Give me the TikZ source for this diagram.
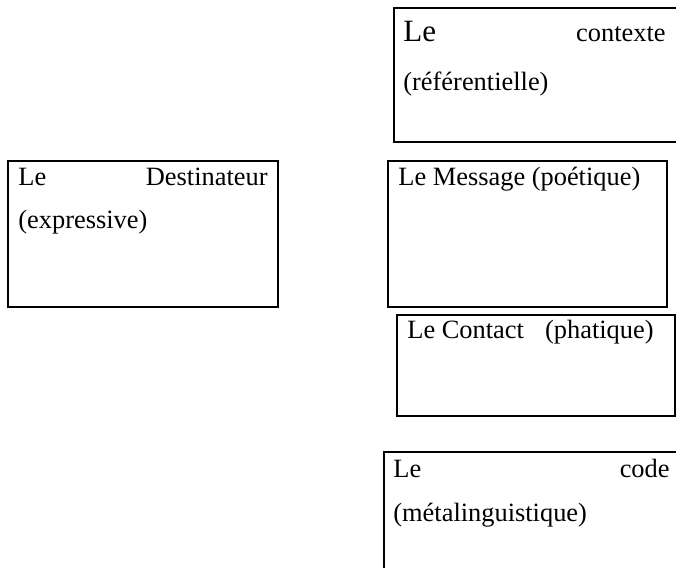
\documentclass[tikz,border=0pt]{standalone}
\usepackage{fontspec}
\setmainfont{Liberation Serif}
\usepackage{tikz}

\begin{document}
\begin{tikzpicture}[x=0.5pt,y=-0.5pt]
  \tikzstyle{box} = [rectangle, draw, line width=0.6pt, inner sep=0pt, outer sep=0pt, anchor=north west]
  \tikzstyle{t} = [inner sep=0pt, font=\fontsize{13.2}{16}\selectfont]
  \clip (0,0) rectangle (676,568);

  % boites
  \node[box, minimum width=148pt, minimum height=67pt](contexte) at (394,8){};
  \node[box, minimum width=135pt, minimum height=73pt](destinateur) at (8,161){};
  \node[box, minimum width=139.5pt, minimum height=73pt](message) at (388,161){};
  \node[box, minimum width=139pt, minimum height=50.5pt](contact) at (397,315){};
  \node[box, minimum width=158pt, minimum height=74pt](code) at (384,452){};

  % textes
  \node[t, anchor=base west, font=\fontsize{15.5}{18}\selectfont](contexte1) at (403,41){Le};
  \node[t, anchor=base east](contexte2) at (666,41){contexte};
  \node[t, anchor=base west](contexte3) at (403,90){(référentielle)};

  \node[t, anchor=base west](destinateur1) at (18,185){Le};
  \node[t, anchor=base east](destinateur2) at (268,185){Destinateur};
  \node[t, anchor=base west](destinateur3) at (18,228){(expressive)};

  \node[t, anchor=base west](message1) at (398,185){Le Message (poétique)};

  \node[t, anchor=base west](contact1) at (407,338){Le Contact\hspace{0.8em}(phatique)};

  \node[t, anchor=base west](code1) at (393,477){Le};
  \node[t, anchor=base east](code2) at (670,477){code};
  \node[t, anchor=base west](code3) at (393,521){(métalinguistique)};
\end{tikzpicture}
\end{document}
